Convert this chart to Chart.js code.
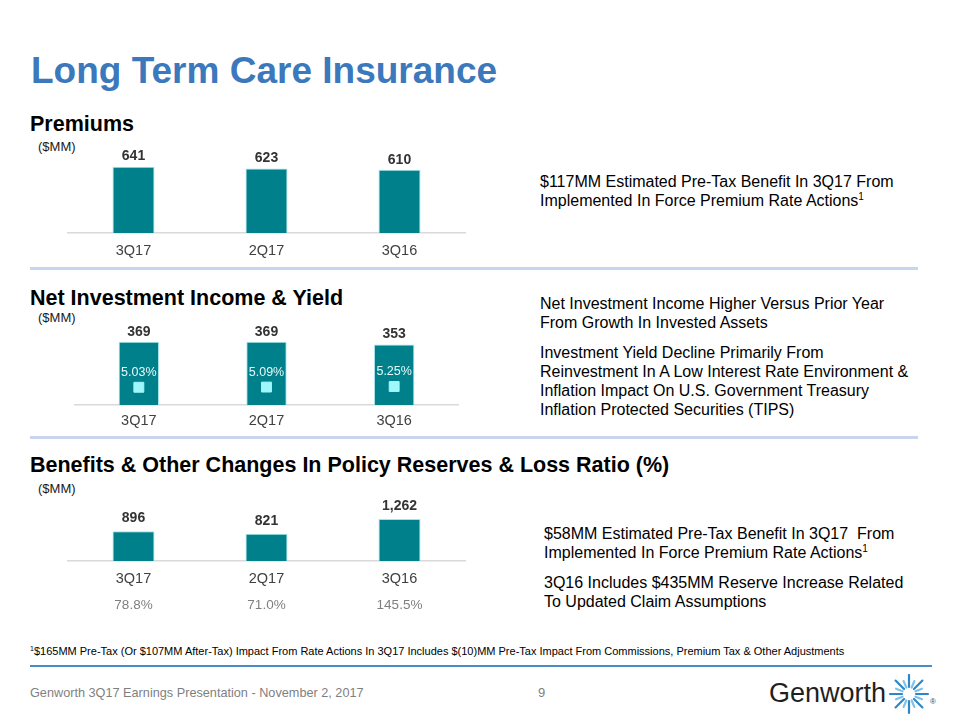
<!DOCTYPE html>
<html>
<head>
<meta charset="utf-8">
<script src="https://cdn.jsdelivr.net/npm/chart.js@4.4.1/dist/chart.umd.min.js"></script>
<style>
  body { margin: 0; width: 960px; height: 720px; position: relative; overflow: hidden; background: #fff;
         font-family: "Liberation Sans", Arial, sans-serif; color: #000; }
  .abs { position: absolute; white-space: nowrap; }
  .title { left: 31px; top: 52px; font-size: 37px; line-height: 37px; font-weight: bold; color: #3B78BC; }
  .head { left: 30px; font-size: 21.5px; line-height: 21px; font-weight: bold; }
  .unit { left: 38px; font-size: 13px; line-height: 13px; color: #1a1a1a; }
  .note { left: 540px; font-size: 16px; line-height: 18.7px; color: #000; }
  .note p { margin: 0 0 12px 0; }
  sup { font-size: 10px; line-height: 0; vertical-align: 6px; }
  .rule { left: 30px; width: 888px; height: 3px; background: #C9D5EC; }
  .box { position: absolute; }
</style>
</head>
<body>
<div class="abs title">Long Term Care Insurance</div>

<div class="abs head" style="top:114px">Premiums</div>
<div class="abs unit" style="top:140px">($MM)</div>
<div class="box" style="left:67px;top:130px;width:399px;height:133px"><canvas id="premiumChart"></canvas></div>
<div class="abs note" style="top:173px">$117MM Estimated Pre-Tax Benefit In 3Q17 From<br>Implemented In Force Premium Rate Actions<sup>1</sup></div>

<div class="abs rule" style="top:267px"></div>

<div class="abs head" style="top:288px">Net Investment Income &amp; Yield</div>
<div class="abs unit" style="top:311px">($MM)</div>
<div class="box" style="left:67px;top:310px;width:399px;height:123px"><canvas id="niiChart"></canvas></div>
<div class="abs note" style="top:295px">
  <p>Net Investment Income Higher Versus Prior Year<br>From Growth In Invested Assets</p>
  <p>Investment Yield Decline Primarily From<br>Reinvestment In A Low Interest Rate Environment &amp;<br>Inflation Impact On U.S. Government Treasury<br>Inflation Protected Securities (TIPS)</p>
</div>

<div class="abs rule" style="top:436px"></div>

<div class="abs head" style="top:455px">Benefits &amp; Other Changes In Policy Reserves &amp; Loss Ratio (%)</div>
<div class="abs unit" style="top:482px">($MM)</div>
<div class="box" style="left:67px;top:480px;width:399px;height:137px"><canvas id="benefitChart"></canvas></div>
<div class="abs note" style="top:525px;left:544px">
  <p>$58MM Estimated Pre-Tax Benefit In 3Q17&nbsp; From<br>Implemented In Force Premium Rate Actions<sup>1</sup></p>
  <p>3Q16 Includes $435MM Reserve Increase Related<br>To Updated Claim Assumptions</p>
</div>

<div class="abs" style="left:30px;top:645px;font-size:11px;line-height:13px;color:#000"><sup style="font-size:7px;vertical-align:4px">1</sup>$165MM Pre-Tax (Or $107MM After-Tax) Impact From Rate Actions In 3Q17 Includes $(10)MM Pre-Tax Impact From Commissions, Premium Tax &amp; Other Adjustments</div>
<div class="abs" style="left:30px;top:665px;width:902px;height:2px;background:#4A8CC6"></div>
<div class="abs" style="left:30px;top:685px;font-size:12.7px;line-height:16px;color:#7F7F7F">Genworth 3Q17 Earnings Presentation - November 2, 2017</div>
<div class="abs" style="left:538px;top:685px;font-size:13px;line-height:16px;color:#7F7F7F">9</div>
<div class="abs" style="left:769px;top:678px;font-size:27px;line-height:30px;color:#1f1f1f">Genworth</div>
<svg class="abs" style="left:888px;top:674px" width="50" height="42" viewBox="0 0 50 42">
  <g id="burst" stroke="#2E86C8" stroke-width="2.2" stroke-linecap="round"></g>
</svg>
<div class="abs" style="left:930px;top:698px;font-size:8px;line-height:8px;color:#444">®</div>

<script>
  // Values
  const quarters = ['3Q17', '2Q17', '3Q16'];
  const premiums = [641, 623, 610];
  const netInvestmentIncome = [369, 369, 353];
  const investmentYield = [5.03, 5.09, 5.25];
  const benefits = [896, 821, 1262];
  const lossRatio = ['78.8%', '71.0%', '145.5%'];

  const teal = '#00808A';
  const edge = '#A6E3E8';
  const tickColor = '#404040';
  const fontFamily = '"Liberation Sans", Arial, sans-serif';

  // Logo starburst
  (function () {
    const g = document.getElementById('burst');
    const cx = 21, cy = 20;
    for (let i = 0; i < 16; i++) {
      const a = (Math.PI * 2 * i) / 16;
      const r0 = 7, r1 = i % 2 ? 14 : 19;
      const line = document.createElementNS('http://www.w3.org/2000/svg', 'line');
      line.setAttribute('x1', cx + r0 * Math.cos(a));
      line.setAttribute('y1', cy + r0 * Math.sin(a));
      line.setAttribute('x2', cx + r1 * Math.cos(a));
      line.setAttribute('y2', cy + r1 * Math.sin(a));
      if (i % 2) line.setAttribute('stroke', '#7FC3EA');
      g.appendChild(line);
    }
  }());

  // Draws the bold value over each bar and the yield text over each marker.
  const valueLabels = {
    id: 'valueLabels',
    afterDatasetsDraw(chart, args, opts) {
      const ctx = chart.ctx;
      ctx.save();
      ctx.textAlign = 'center';
      ctx.textBaseline = 'middle';
      chart.data.datasets.forEach((ds, i) => {
        const meta = chart.getDatasetMeta(i);
        meta.data.forEach((el, j) => {
          const v = ds.data[j];
          if (ds.type === 'line') {
            ctx.font = '12.5px ' + fontFamily;
            ctx.fillStyle = '#E6FBFC';
            ctx.fillText(v.toFixed(2) + '%', el.x, el.y - 15);
          } else {
            ctx.font = 'bold 14px ' + fontFamily;
            ctx.fillStyle = '#333333';
            ctx.fillText(v.toLocaleString('en-US'), el.x, el.y - (opts.offset || 10));
          }
        });
      });
      ctx.restore();
    },
  };

  function barDataset(values) {
    return {
      type: 'bar', data: values, backgroundColor: teal, borderColor: edge, borderWidth: 1,
      categoryPercentage: 1, barPercentage: 0.316, order: 2,
    };
  }

  function xAxis(height, pad, extra) {
    return Object.assign({
      grid: { display: false, drawTicks: false },
      border: { display: true, color: '#D9D9D9', width: 1.5 },
      ticks: { color: tickColor, padding: pad, font: { size: 14.5, family: fontFamily } },
      afterFit: (scale) => { scale.height = height; },
    }, extra || {});
  }

  function baseOptions(yMax, scales, offset) {
    return {
      responsive: true,
      maintainAspectRatio: false,
      animation: false,
      layout: { padding: { top: 15, left: 0, right: 0, bottom: 0 } },
      plugins: { legend: { display: false }, tooltip: { enabled: false }, valueLabels: { offset: offset } },
      scales: Object.assign({ y: { display: false, min: 0, max: yMax } }, scales),
    };
  }

  new Chart(document.getElementById('premiumChart'), {
    type: 'bar',
    data: { labels: quarters, datasets: [barDataset(premiums)] },
    options: baseOptions(850, { x: xAxis(30, 9) }, 10),
    plugins: [valueLabels],
  });

  new Chart(document.getElementById('niiChart'), {
    type: 'bar',
    data: {
      labels: quarters,
      datasets: [
        barDataset(netInvestmentIncome),
        {
          type: 'line', data: investmentYield, yAxisID: 'y2', showLine: false, order: 1,
          pointStyle: 'rect', pointRadius: 7, pointBackgroundColor: '#9FF7FB', pointBorderColor: '#9FF7FB',
        },
      ],
    },
    options: baseOptions(466, {
      x: xAxis(28, 7),
      y2: { display: false, min: 0, max: 22.7 },
    }, 10),
    plugins: [valueLabels],
  });

  new Chart(document.getElementById('benefitChart'), {
    type: 'bar',
    data: { labels: quarters, datasets: [barDataset(benefits)] },
    options: baseOptions(1983, {
      x: xAxis(28, 9, { weight: 0 }),
      x2: {
        type: 'category', labels: lossRatio, position: 'bottom', weight: 1, offset: true,
        grid: { display: false, drawTicks: false }, border: { display: false },
        ticks: { color: '#7F7F7F', padding: 8, font: { size: 13.5, family: fontFamily } },
        afterFit: (scale) => { scale.height = 28; },
      },
    }, 13),
    plugins: [valueLabels],
  });
</script>
</body>
</html>
